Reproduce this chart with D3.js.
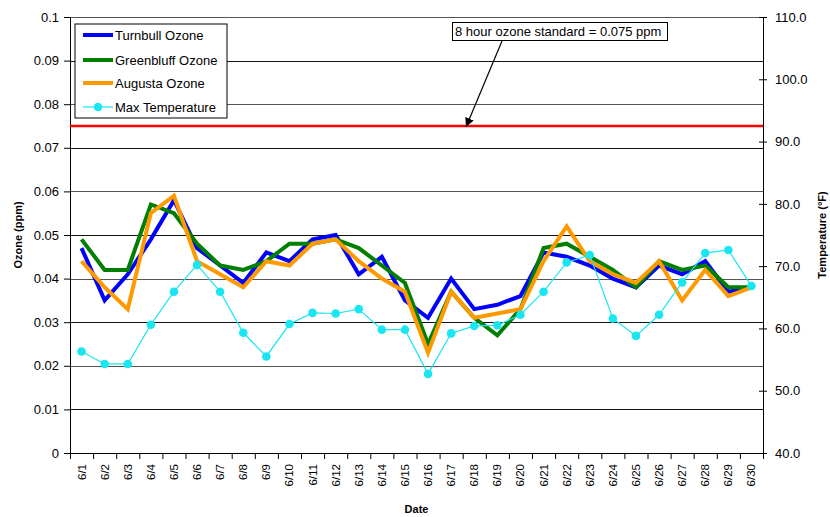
<!DOCTYPE html>
<html>
<head>
<meta charset="utf-8">
<script src="https://cdn.jsdelivr.net/npm/d3@7"></script>
<style>
  body { margin: 0; background: #fff; }
  text { font-family: "Liberation Sans", Arial, sans-serif; fill: #000; }
  .axis path, .axis line { stroke: #000; }
  .axis text { font-size: 13px; }
  .xaxis text { font-size: 11.5px; }
  .title { font-size: 11px; font-weight: bold; }
</style>
</head>
<body>
<svg width="830" height="517"></svg>
<script>
// data
const dates = ['6/1','6/2','6/3','6/4','6/5','6/6','6/7','6/8','6/9','6/10',
  '6/11','6/12','6/13','6/14','6/15','6/16','6/17','6/18','6/19','6/20',
  '6/21','6/22','6/23','6/24','6/25','6/26','6/27','6/28','6/29','6/30'];

const turnbull = [0.047,0.035,0.041,0.049,0.058,0.047,0.043,0.039,0.046,0.044,
  0.049,0.050,0.041,0.045,0.035,0.031,0.040,0.033,0.034,0.036,
  0.046,0.045,0.043,0.040,0.038,0.043,0.041,0.044,0.037,0.038];

const greenbluff = [0.049,0.042,0.042,0.057,0.055,0.048,0.043,0.042,0.044,0.048,
  0.048,0.049,0.047,0.043,0.039,0.025,0.037,0.031,0.027,0.033,
  0.047,0.048,0.045,0.042,0.038,0.044,0.042,0.043,0.038,0.038];

const augusta = [0.044,0.038,0.033,0.055,0.059,0.044,0.041,0.038,0.044,0.043,
  0.048,0.049,0.044,0.040,0.037,0.023,0.037,0.031,0.032,0.033,
  0.044,0.052,0.044,0.041,0.039,0.044,0.035,0.042,0.036,0.038];

const maxTemp = [56.3,54.3,54.3,60.6,65.9,70.2,65.9,59.3,55.5,60.7,
  62.5,62.4,63.1,59.8,59.8,52.7,59.2,60.4,60.5,62.2,
  65.9,70.6,71.8,61.6,58.8,62.2,67.4,72.1,72.6,66.8];

const ozoneTicks = [0,0.01,0.02,0.03,0.04,0.05,0.06,0.07,0.08,0.09,0.1];
const tempTicks = [40,50,60,70,80,90,100,110];
const standard = 0.075;

const svg = d3.select('svg');
const margin = { top: 17, right: 67, bottom: 64, left: 70 };
const width = 830 - margin.left - margin.right;
const height = 517 - margin.top - margin.bottom;

const g = svg.append('g')
  .attr('transform', `translate(${margin.left},${margin.top})`);

const x = d3.scaleBand().domain(dates).range([0, width]);
const xEdge = d3.scaleLinear().domain([0, dates.length]).range([0, width]);
const y = d3.scaleLinear().domain([0, 0.1]).range([height, 0]);
const y2 = d3.scaleLinear().domain([40, 110]).range([height, 0]);
const cx = d => x(d) + x.bandwidth() / 2;

// gridlines
g.append('g')
  .selectAll('line')
  .data(ozoneTicks.slice(1))
  .join('line')
  .attr('x1', 0).attr('x2', width)
  .attr('y1', d => Math.round(y(d)) + 0.5)
  .attr('y2', d => Math.round(y(d)) + 0.5)
  .attr('stroke', (d, i) => i % 2 ? '#555' : '#111')
  .attr('stroke-width', 1);

// left axis
g.append('g').attr('class', 'axis')
  .call(d3.axisLeft(y).tickValues(ozoneTicks).tickFormat(d3.format('~g'))
    .tickSize(6).tickPadding(5).tickSizeOuter(0));

// right axis
const rAxis = g.append('g').attr('class', 'axis')
  .attr('transform', `translate(${width},0)`)
  .call(d3.axisRight(y2).tickValues(tempTicks).tickFormat(d3.format('.1f'))
    .tickSize(4).tickPadding(8).tickSizeOuter(0));
rAxis.selectAll('.tick line').attr('x1', -4);

// bottom axis: ticks at category edges, labels at centres
g.append('g').attr('class', 'axis')
  .attr('transform', `translate(0,${height})`)
  .call(d3.axisBottom(xEdge).ticks(dates.length).tickValues(d3.range(dates.length + 1))
    .tickFormat('').tickSize(6).tickSizeOuter(0));

g.append('g').attr('class', 'xaxis')
  .attr('transform', `translate(0,${height})`)
  .call(d3.axisBottom(x).tickSize(0).tickPadding(0))
  .call(a => a.select('.domain').remove())
  .selectAll('text')
  .attr('transform', 'rotate(-90)')
  .attr('text-anchor', 'end')
  .attr('x', -11)
  .attr('y', 0)
  .attr('dy', '0.35em');

// standard line
g.append('line')
  .attr('x1', 0).attr('x2', width)
  .attr('y1', y(standard)).attr('y2', y(standard))
  .attr('stroke', '#ff0000').attr('stroke-width', 2.5);

// ozone lines
const line = d3.line().x((d, i) => cx(dates[i])).y(d => y(d));
const series = [
  { name: 'Turnbull Ozone', values: turnbull, color: '#0000ff' },
  { name: 'Greenbluff Ozone', values: greenbluff, color: '#007f00' },
  { name: 'Augusta Ozone', values: augusta, color: '#ff9900' }
];
series.forEach(s => {
  g.append('path')
    .attr('d', line(s.values))
    .attr('fill', 'none')
    .attr('stroke', s.color)
    .attr('stroke-width', 4)
    .attr('stroke-linejoin', 'miter');
});

// temperature
const tempColor = '#19e6f0';
const tline = d3.line().x((d, i) => cx(dates[i])).y(d => y2(d));
g.append('path')
  .attr('d', tline(maxTemp))
  .attr('fill', 'none')
  .attr('stroke', tempColor)
  .attr('stroke-width', 1.2);
g.append('g').selectAll('circle')
  .data(maxTemp)
  .join('circle')
  .attr('cx', (d, i) => cx(dates[i]))
  .attr('cy', d => y2(d))
  .attr('r', 4.3)
  .attr('fill', tempColor);

// axis titles
svg.append('text').attr('class', 'title')
  .attr('transform', `translate(22,${margin.top + height / 2}) rotate(-90)`)
  .attr('text-anchor', 'middle')
  .text('Ozone (ppm)');
svg.append('text').attr('class', 'title')
  .attr('transform', `translate(826,${margin.top + height / 2}) rotate(-90)`)
  .attr('text-anchor', 'middle')
  .text('Temperature (°F)');
svg.append('text').attr('class', 'title')
  .attr('x', margin.left + width / 2).attr('y', 513)
  .attr('text-anchor', 'middle')
  .text('Date');

// legend
const legend = svg.append('g').attr('transform', 'translate(75,24)');
legend.append('rect')
  .attr('width', 152).attr('height', 94)
  .attr('fill', '#fff').attr('stroke', '#000').attr('stroke-width', 1);
const legendItems = series.map(s => ({ name: s.name, color: s.color, w: 4 }))
  .concat([{ name: 'Max Temperature', color: tempColor, w: 1.2, dot: true }]);
const ly = [11, 36, 59, 83];
legendItems.forEach((d, i) => {
  const row = legend.append('g').attr('transform', `translate(0,${ly[i]})`);
  row.append('line').attr('x1', 8).attr('x2', 38)
    .attr('stroke', d.color).attr('stroke-width', d.w);
  if (d.dot) row.append('circle').attr('cx', 23).attr('r', 4.3).attr('fill', d.color);
  row.append('text').attr('x', 40).attr('dy', '0.35em')
    .style('font-size', '13px').text(d.name);
});

// annotation
const note = svg.append('g');
note.append('rect')
  .attr('x', 452.5).attr('y', 22.5).attr('width', 215).attr('height', 18)
  .attr('fill', '#fff').attr('stroke', '#000');
note.append('text')
  .attr('x', 455).attr('y', 36)
  .style('font-size', '13px')
  .text('8 hour ozone standard = 0.075 ppm');

svg.append('defs').append('marker')
  .attr('id', 'arrow')
  .attr('viewBox', '0 0 10 10')
  .attr('refX', 10).attr('refY', 5)
  .attr('markerWidth', 9).attr('markerHeight', 9)
  .attr('markerUnits', 'userSpaceOnUse')
  .attr('orient', 'auto')
  .append('path').attr('d', 'M0,0 L10,5 L0,10 z').attr('fill', '#000');

svg.append('line')
  .attr('x1', 502).attr('y1', 41)
  .attr('x2', 466).attr('y2', margin.top + y(standard) + 1)
  .attr('stroke', '#000').attr('stroke-width', 1.2)
  .attr('marker-end', 'url(#arrow)');
</script>
</body>
</html>
